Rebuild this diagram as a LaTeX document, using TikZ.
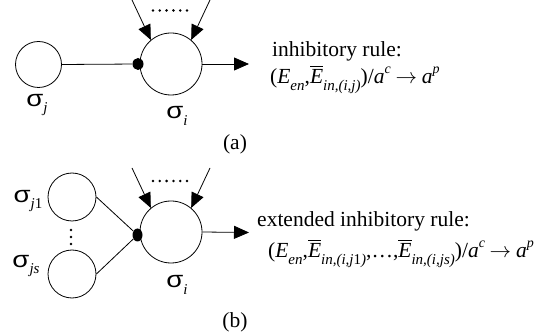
\documentclass[tikz,border=0pt]{standalone}
\usepackage{graphicx}
\usepackage{mathptmx}
\usepackage{fontspec}
\setmainfont{Liberation Serif}
\newfontfamily\sgfont{Liberation Sans}
\usetikzlibrary{arrows.meta,shapes.geometric}
\newcommand{\lsub}[1]{\raisebox{-0.3em}{\fontsize{15}{15}\selectfont #1}}
\newcommand{\lsup}[1]{\raisebox{0.5em}{\fontsize{14}{14}\selectfont\itshape #1}}
\newcommand{\oE}{$\overline{\mbox{\itshape E}}$}
\newcommand{\sig}{\scalebox{1.2}[1]{\sgfont\fontsize{23}{23}\selectfont σ}}
\tikzset{
  neuron/.style={circle,draw,line width=0.8pt,inner sep=0pt},
  blob/.style={ellipse,fill=black,inner sep=0pt},
  arr/.style={line width=0.8pt,-{Triangle[length=15pt,width=13pt]}},
  conn/.style={line width=0.8pt},
  lbl/.style={inner sep=0pt,font=\fontsize{21.5}{25}\selectfont},
}
\begin{document}
\begin{tikzpicture}[x=1pt,y=-1pt]
\useasboundingbox (0,0) rectangle (548,336);
% ---------- (a)
\node[neuron,minimum size=46pt] (sj) at (38.5,64.5) {};
\node[neuron,minimum size=62pt] (si) at (171,64) {};
\node[blob,minimum width=11pt,minimum height=12pt] (d) at (138,64) {};
\coordinate (ina) at (132,0);
\coordinate (inb) at (210,0);
\coordinate (outa) at (249,64);
\draw[conn] (sj.east) -- (d);
\draw[arr] (ina) -- (si.130);
\draw[arr] (inb) -- (si.50);
\draw[arr] (si.east) -- (outa);
\foreach \k in {0,...,5} \fill (153+6.8*\k,10.5) circle (1.4);
\node[lbl] (lsj) at (37,105) {\sig\lsub{\itshape j}};
\node[lbl] (lsi) at (177,116) {\sig\lsub{\itshape i}};
\node[lbl,anchor=base west] (ra) at (272,57) {inhibitory rule:};
\node[lbl,anchor=base west] (fa) at (270,84) {(\textit{E}\lsub{\itshape en},\oE\lsub{\itshape in,(i,j)})/\textit{a}\lsup{c}$\;\rightarrow\;$\textit{a}\lsup{p}};
\node[lbl] (capa) at (235,144) {(a)};
% ---------- (b)
\node[neuron,minimum size=48pt] (sj1) at (72,197) {};
\node[neuron,minimum size=48pt] (sjs) at (72,274) {};
\node[neuron,minimum size=62pt] (si2) at (171,232) {};
\node[blob,minimum width=10pt,minimum height=13pt] (d2) at (137.5,235) {};
\coordinate (inc) at (132,168);
\coordinate (ind) at (210,168);
\coordinate (outb) at (249,232.5);
\draw[conn] (sj1.east) -- (d2);
\draw[conn] (sjs.east) -- (d2);
\draw[arr] (inc) -- (si2.130);
\draw[arr] (ind) -- (si2.50);
\draw[arr] (si2.east) -- (outb);
\foreach \k in {0,...,5} \fill (153+6.8*\k,181) circle (1.4);
\foreach \k in {0,...,2} \fill (71,230+7*\k) circle (1.4);
\node[lbl] (lsj1) at (28,201) {\sig\lsub{\itshape j\/\upshape 1}};
\node[lbl] (lsjs) at (26,266) {\sig\lsub{\itshape js}};
\node[lbl] (lsi2) at (177,285) {\sig\lsub{\itshape i}};
\node[lbl,anchor=base west] (rb) at (257,227) {extended inhibitory rule:};
\node[lbl,anchor=base west] (fb) at (268,258) {(\textit{E}\lsub{\itshape en},\oE\lsub{\itshape in,(i,j\/\upshape 1\itshape)},\ldots,\oE\lsub{\itshape in,(i,js)})/\textit{a}\lsup{c}$\;\rightarrow\;$\textit{a}\lsup{p}};
\node[lbl] (capb) at (235,322) {(b)};
\end{tikzpicture}
\end{document}
